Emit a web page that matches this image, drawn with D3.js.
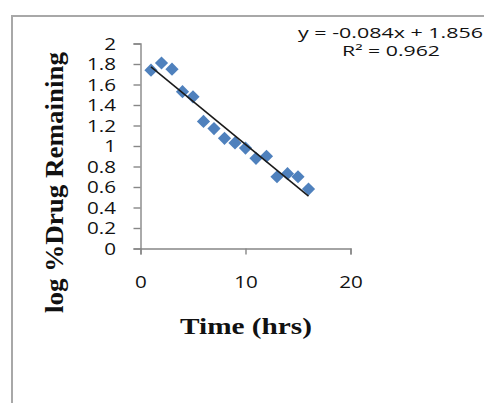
<!DOCTYPE html>
<html>
<head>
<meta charset="utf-8">
<script src="https://cdn.jsdelivr.net/npm/d3@7"></script>
<style>
  html, body { margin: 0; padding: 0; background: #fff; }
  svg { display: block; }
</style>
</head>
<body>
<svg id="chart" width="484" height="403"></svg>
<script>
// ---- data ----
const hours = [1, 2, 3, 4, 5, 6, 7, 8, 9, 10, 11, 12, 13, 14, 15, 16];
const logDrugRemaining = [1.74, 1.81, 1.75, 1.53, 1.48, 1.24, 1.17, 1.075, 1.03, 0.98, 0.88, 0.90, 0.70, 0.73, 0.70, 0.58];
const xTicks = [0, 10, 20];
const yTicks = [0, 0.2, 0.4, 0.6, 0.8, 1, 1.2, 1.4, 1.6, 1.8, 2];
const trendSlope = -0.084;
const trendIntercept = 1.856;
const equationLabel = "y = -0.084x + 1.856";
const r2Label = "R² = 0.962";
const xTitle = "Time (hrs)";
const yTitle = "log %Drug Remaining";

const svg = d3.select("#chart");

// outer chart frame
svg.append("rect")
  .attr("x", 12).attr("y", 16).attr("width", 520).attr("height", 420)
  .attr("fill", "none").attr("stroke", "#a8a8a8").attr("stroke-width", 2);

const x = d3.scaleLinear().domain([0, 20]).range([140.5, 350.5]);
const y = d3.scaleLinear().domain([0, 2]).range([248.5, 43.5]);

const axisColor = "#878787";

// y axis
const gy = svg.append("g").attr("transform", `translate(${x(0)},0)`)
  .call(d3.axisLeft(y).tickValues(yTicks).tickSize(7).tickPadding(0).tickFormat(d3.format("~g")));
// x axis
const gx = svg.append("g").attr("transform", `translate(0,${y(0)})`)
  .call(d3.axisBottom(x).tickValues(xTicks).tickSize(6).tickFormat(d3.format("d")));

[gx, gy].forEach(g => {
  g.select(".domain").attr("stroke", axisColor).attr("stroke-width", 1.4);
  g.selectAll(".tick line").attr("stroke", axisColor).attr("stroke-width", 1.4);
  g.selectAll(".tick text")
    .attr("fill", "#111")
    .style("font-family", "'Open Sans', sans-serif")
    .style("font-size", "16.5px");
});
gy.selectAll(".tick text")
  .attr("x", 0).attr("dy", "0.36em")
  .attr("transform", "translate(-24.5,0) scale(1.25,1)");
gx.selectAll(".tick text")
  .attr("y", 0).attr("dy", 0)
  .attr("transform", "translate(0,39) scale(1.25,1)");

// diamond markers
const r = 6.6;
svg.append("g").selectAll("path")
  .data(hours.map((h, i) => [h, logDrugRemaining[i]]))
  .join("path")
  .attr("d", d => {
    const cx = x(d[0]), cy = y(d[1]);
    return `M${cx},${cy - r}L${cx + r},${cy}L${cx},${cy + r}L${cx - r},${cy}Z`;
  })
  .attr("fill", "#4F81BD");

// trendline (drawn above markers)
svg.append("line")
  .attr("x1", x(hours[0])).attr("y1", y(trendSlope * hours[0] + trendIntercept))
  .attr("x2", x(hours[hours.length - 1])).attr("y2", y(trendSlope * hours[hours.length - 1] + trendIntercept))
  .attr("stroke", "#1a1a1a").attr("stroke-width", 1.6);

// equation and R²
svg.append("text")
  .attr("x", 298).attr("y", 37.5)
  .attr("textLength", 185).attr("lengthAdjust", "spacingAndGlyphs")
  .style("font-family", "'Open Sans', sans-serif").style("font-size", "14px")
  .attr("fill", "#111").text(equationLabel);
svg.append("text")
  .attr("x", 342).attr("y", 56)
  .attr("textLength", 98).attr("lengthAdjust", "spacingAndGlyphs")
  .style("font-family", "'Open Sans', sans-serif").style("font-size", "14px")
  .attr("fill", "#111").text(r2Label);

// axis titles
svg.append("text")
  .attr("transform", "translate(246,334)")
  .attr("text-anchor", "middle")
  .attr("textLength", 132).attr("lengthAdjust", "spacingAndGlyphs")
  .style("font-family", "'Liberation Serif', 'Times New Roman', serif")
  .style("font-weight", "bold").style("font-size", "24px")
  .attr("fill", "#111").text(xTitle);

svg.append("text")
  .attr("transform", "translate(63,182.5) rotate(-90)")
  .attr("text-anchor", "middle")
  .attr("textLength", 261).attr("lengthAdjust", "spacingAndGlyphs")
  .style("font-family", "'Liberation Serif', 'Times New Roman', serif")
  .style("font-weight", "bold").style("font-size", "25px")
  .attr("fill", "#111").text(yTitle);
</script>
</body>
</html>
